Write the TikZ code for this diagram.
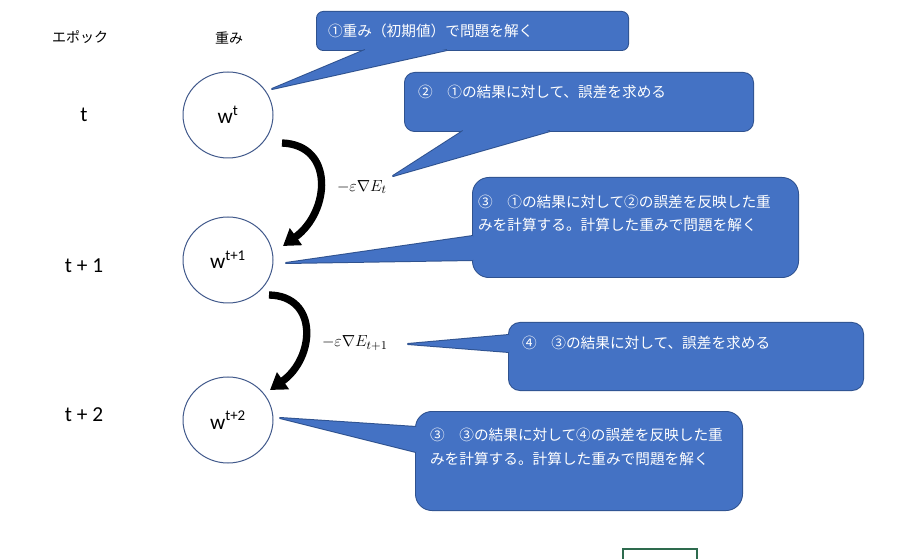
\documentclass[tikz,border=0pt]{standalone}
\usepackage{fontspec}
\setmainfont{Carlito}
\newfontfamily\jpfont{Noto Sans CJK JP}
\usetikzlibrary{shapes.geometric,arrows.meta,calc}

\definecolor{calloutblue}{HTML}{4472C4}
\definecolor{calloutedge}{HTML}{2F528F}
\definecolor{ringedge}{HTML}{41598B}
\definecolor{framegreen}{HTML}{2E6B4E}

\begin{document}
\begin{tikzpicture}[x=0.75pt, y=-0.75pt,
    every node/.style={inner sep=0pt, outer sep=0pt},
    weight/.style={ellipse, draw=ringedge, line width=0.75pt, minimum width=67.5pt, minimum height=64.5pt, font=\fontsize{16}{16}\selectfont},
    epoch/.style={font=\fontsize{16}{16}\selectfont},
    head/.style={font=\jpfont\fontsize{10.5}{10.5}\selectfont},
    callout/.style={rectangle, anchor=north west, fill=calloutblue, preaction={draw=calloutedge, line width=1.5pt}},
    tail/.style={fill=calloutblue, preaction={draw=calloutedge, line width=1.5pt, line join=round}},
    note/.style={anchor=west, text=white, align=left, font=\jpfont\fontsize{11}{17.6}\selectfont},
    grad/.style={anchor=west, font=\fontsize{13}{13}\selectfont},
    steparrow/.style={line width=5.5pt, -{Triangle[length=12pt, width=15pt]}}
]
    \useasboundingbox (0,0) rectangle (924,559);

    % Column headings
    \node[head] (hEpoch) at (80,37) {エポック};
    \node[head] (hWeight) at (229,38) {重み};

    % Epochs and weights
    \node[epoch] (e0) at (84,115) {t};
    \node[epoch] (e1) at (84,266) {t + 1};
    \node[epoch] (e2) at (84,415) {t + 2};

    \node[weight] (w0) at (228,115) {w\textsuperscript{t}};
    \node[weight] (w1) at (228,260) {w\textsuperscript{t+1}};
    \node[weight] (w2) at (228,420) {w\textsuperscript{t+2}};

    % Update steps
    \draw[steparrow] ($(w0.east)+(9,28)$) .. controls +(53,2) and +(47,-34) .. ($(w1.east)+(10,-14)$);
    \draw[steparrow] ($(w1.east)+(-4,35)$) .. controls +(50,1) and +(45,-32) .. ($(w2.east)+(-3,-30)$);
    \node[grad] (g0) at (337,187) {$-\varepsilon\nabla E_t$};
    \node[grad] (g1) at (322,343) {$-\varepsilon\nabla E_{t+1}$};

    % Callout boxes
    \node[callout, minimum width=233.25pt, minimum height=28.5pt, rounded corners=4.75pt] (c1) at (317,12) {};
    \node[callout, minimum width=261pt, minimum height=43.5pt, rounded corners=7.25pt] (c2) at (405,73) {};
    \node[callout, minimum width=243.75pt, minimum height=74.25pt, rounded corners=12pt] (c3) at (473,178) {};
    \node[callout, minimum width=265.5pt, minimum height=50.25pt, rounded corners=8.25pt] (c4) at (509,323) {};
    \node[callout, minimum width=244.5pt, minimum height=73.5pt, rounded corners=12pt] (c5) at (416,412) {};

    % Callout tails
    \coordinate (p1) at (272,89);
    \coordinate (p2) at (393,176);
    \coordinate (p3) at (286,263);
    \coordinate (p4) at (408,344);
    \coordinate (p5) at (280,418);
    \fill[tail] ($(c1.south west)+(48,0)$) -- (p1) -- ($(c1.south west)+(130,0)$);
    \fill[tail] ($(c2.south west)+(58,0)$) -- (p2) -- ($(c2.south west)+(145,0)$);
    \fill[tail] ($(c3.north west)+(0,58)$) -- (p3) -- ($(c3.north west)+(0,82)$);
    \fill[tail] ($(c4.north west)+(0,12)$) -- (p4) -- ($(c4.north west)+(0,29)$);
    \fill[tail] ($(c5.north west)+(0,15)$) -- (p5) -- ($(c5.north west)+(0,40)$);

    % Callout texts
    \node[note] (t1) at ($(c1.north west)+(11,19)$) {①重み（初期値）で問題を解く};
    \node[note] (t2) at ($(c2.north west)+(13,19)$) {②　①の結果に対して、誤差を求める};
    \node[note] (t3) at ($(c3.north west)+(5,35.5)$) {③　①の結果に対して②の誤差を反映した重\\みを計算する。計算した重みで問題を解く};
    \node[note] (t4) at ($(c4.north west)+(13,20)$) {④　③の結果に対して、誤差を求める};
    \node[note] (t5) at ($(c5.north west)+(14,35)$) {③　③の結果に対して④の誤差を反映した重\\みを計算する。計算した重みで問題を解く};

    % Frame cut off at the bottom
    \draw[framegreen, line width=1.1pt] (623,564) |- (697,549) -- (697,564);

\end{tikzpicture}
\end{document}
